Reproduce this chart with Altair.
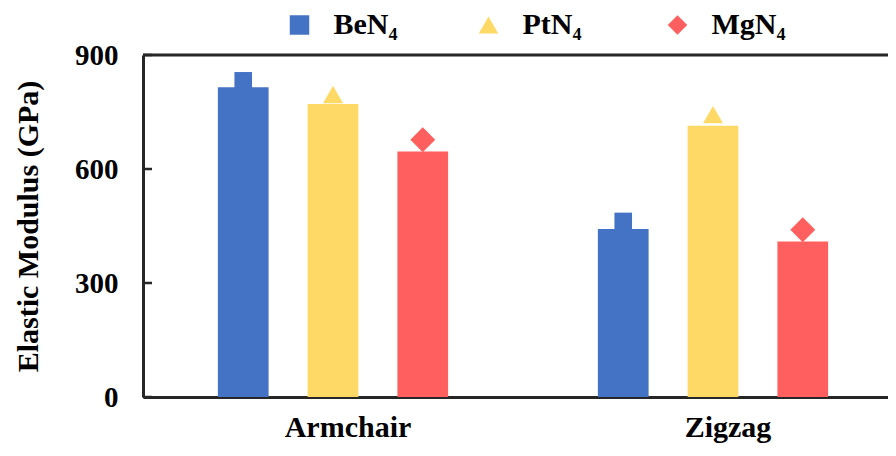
import altair as alt
import pandas as pd

# ---- data ----
categories = ["Armchair", "Zigzag"]
series = ["BeN₄", "PtN₄", "MgN₄"]
bar_ben4 = [815, 442]
bar_ptn4 = [771, 714]
bar_mgn4 = [646, 409]
marker_ben4 = [832, 462]
marker_ptn4 = [796, 743]
marker_mgn4 = [677, 440]
y_tick_values = [0, 300, 600, 900]

# ---- styles ----
colors = ["#4472C4", "#FFD966", "#FF5F5F"]
shapes = ["square", "triangle-up", "diamond"]
symbol_sizes = [310, 400, 620]
FONT = "Liberation Serif"
AXIS_COLOR = "#262626"

rows = []
for s, bars, marks, sz in zip(series, [bar_ben4, bar_ptn4, bar_mgn4],
                              [marker_ben4, marker_ptn4, marker_mgn4], symbol_sizes):
    for c, b, m in zip(categories, bars, marks):
        rows.append({"category": c, "series": s, "bar": b, "marker": m, "msize": sz})
df = pd.DataFrame(rows)
ticks_df = pd.DataFrame({"tick": y_tick_values})
top_df = pd.DataFrame({"top": [max(y_tick_values)]})

y_scale = alt.Scale(domain=[0, 900], nice=False, zero=True)
y_axis = alt.Axis(
    values=y_tick_values, title="Elastic Modulus (GPa)",
    titleFont=FONT, titleFontSize=30, titleFontWeight="bold", titleColor="black",
    titlePadding=31,
    labelFont=FONT, labelFontSize=29, labelFontWeight="bold", labelColor="black",
    labelPadding=25, ticks=False, domainColor=AXIS_COLOR, domainWidth=3, grid=False,
)
x_scale = alt.Scale(range=[0, 760], paddingInner=0, paddingOuter=0)
x_axis = alt.Axis(
    title=None, labelAngle=0, ticks=False, labelFont=FONT, labelFontSize=30,
    labelFontWeight="bold", labelColor="black", labelPadding=15, labelOffset=15,
    domainColor=AXIS_COLOR, domainWidth=3, grid=False,
)
xoff = alt.XOffset("series:N", sort=series,
                   scale=alt.Scale(domain=series, paddingInner=0.435, paddingOuter=0.834))
color_scale = alt.Scale(domain=series, range=colors)

legend = alt.Legend(
    title=None, orient="none", legendX=141.5, legendY=-45, direction="horizontal",
    columns=3, gridAlign="all", columnPadding=66, labelFont=FONT, labelFontSize=30,
    labelFontWeight="bold", labelColor="black", labelOffset=19,
    symbolSize=380, symbolStrokeWidth=0, symbolOpacity=1, padding=0, rowPadding=0,
)

markers = alt.Chart(df).mark_point(filled=True, opacity=1).encode(
    x=alt.X("category:N", sort=categories, scale=x_scale, axis=x_axis),
    xOffset=xoff,
    y=alt.Y("marker:Q", scale=y_scale, axis=y_axis),
    color=alt.Color("series:N", scale=color_scale, legend=legend),
    shape=alt.Shape("series:N", scale=alt.Scale(domain=series, range=shapes), legend=legend),
    size=alt.Size("msize:Q", scale=None),
)

bars = alt.Chart(df).mark_bar().encode(
    x=alt.X("category:N", sort=categories, scale=x_scale, axis=x_axis),
    xOffset=xoff,
    y=alt.Y("bar:Q", scale=y_scale, axis=y_axis),
    color=alt.Color("series:N", scale=color_scale, legend=None),
)

tick_marks = alt.Chart(ticks_df).mark_rule(color=AXIS_COLOR, strokeWidth=2.5).encode(
    y=alt.Y("tick:Q", scale=y_scale, axis=y_axis),
    x=alt.value(0), x2=alt.value(9),
)

top_line = alt.Chart(top_df).mark_rule(color=AXIS_COLOR, strokeWidth=3).encode(
    y=alt.Y("top:Q", scale=y_scale, axis=y_axis),
    x=alt.value(0), x2=alt.value(760),
)

chart = alt.layer(markers, bars, tick_marks, top_line).properties(
    width=745, height=342,
    autosize=alt.AutoSizeParams(type="none"),
    padding={"left": 135, "top": 47, "right": 0, "bottom": 47},
).configure_view(stroke=None)

chart.save("out.html", embed_options={"renderer": "svg", "actions": False})
